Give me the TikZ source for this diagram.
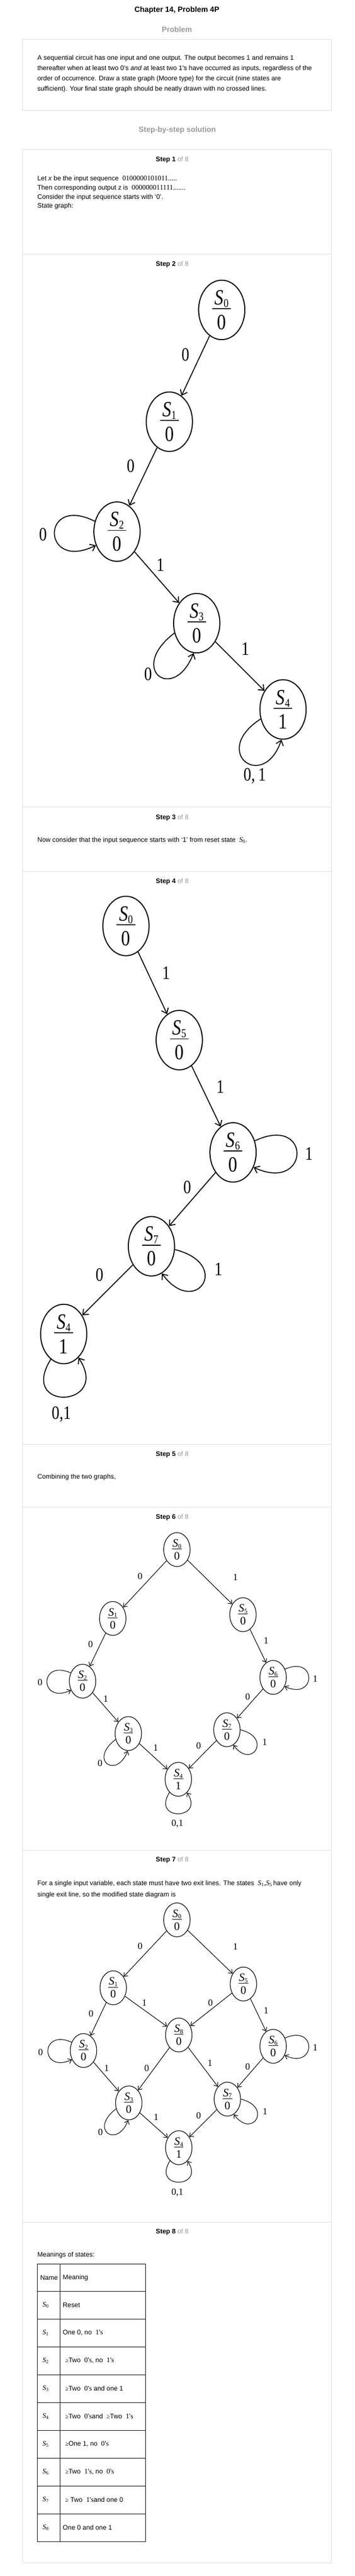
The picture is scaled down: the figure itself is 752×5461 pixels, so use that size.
\documentclass[tikz,border=0pt]{standalone}
\usepackage{fontspec}
\setmainfont{Liberation Sans}
\newfontfamily\tms{Liberation Serif}
\newfontfamily\tmsn[FakeStretch=0.82]{Liberation Serif}
\usetikzlibrary{shapes.geometric,arrows.meta}
\definecolor{rulegray}{HTML}{DDDDDD}
\definecolor{stepgray}{HTML}{9A9A9A}
% state label: S_i over a bar over the output
\newcommand{\stlbl}[2]{\textit{S}\raisebox{-0.12em}{\scalebox{0.55}{#1}}\\[-1.0em]\rule{0.86em}{0.045em}\\[-0.28em]#2}
\newcommand{\stephd}[1]{\textbf{Step #1} \textcolor{stepgray}{of 8}}
\newcommand{\qs}[1]{{\tms\fontsize{15}{16}\selectfont #1\textquotesingle s}}
\newcommand{\gq}{{\tms\fontsize{13}{16}\selectfont ≥}}
\tikzset{
  boxline/.style={draw=rulegray,line width=1pt},
  txt/.style={anchor=west,inner sep=0pt,font=\fontsize{14}{16}\selectfont},
  bigstate/.style={ellipse,draw,line width=2.2pt,minimum width=98pt,minimum height=126pt,inner sep=0pt,align=center,font=\tmsn\fontsize{46}{55.6}\selectfont},
  smallstate/.style={ellipse,draw,line width=1.3pt,minimum width=56pt,minimum height=72pt,inner sep=0pt,align=center,font=\tms\fontsize{24}{29}\selectfont},
  biglbl/.style={inner sep=0pt,font=\tmsn\fontsize{40}{42}\selectfont},
  smalllbl/.style={inner sep=0pt,font=\tms\fontsize{20}{22}\selectfont},
  bigedge/.style={draw=black,line width=2pt,-{Straight Barb[length=10pt,width=16pt]}},
  smalledge/.style={draw=black,line width=1.2pt,-{Straight Barb[length=7pt,width=11pt]}}
}
\begin{document}
\begin{tikzpicture}[x=1pt,y=1pt]
  \fill[white] (0,0) rectangle (752,-5461);
  \useasboundingbox (0,0) rectangle (752,-5461);

  % heading and problem
  \node (title) at (375,-22) {\fontsize{16}{18}\selectfont\bfseries Chapter 14, Problem 4P};
  \node (problem) at (375,-63) {\fontsize{16}{18}\selectfont\bfseries\color{stepgray}Problem};
  \draw[boxline] (48,-84) rectangle (703,-234);
  \node (ptext) [txt,align=left,font=\fontsize{14}{22}\selectfont] at (79,-156.5)
    {A sequential circuit has one input and one output. The output becomes 1 and remains 1\\
     thereafter when at least two 0’s \textit{and} at least two 1’s have occurred as inputs, regardless of the\\
     order of occurrence. Draw a state graph (Moore type) for the circuit (nine states are\\
     sufficient). Your final state graph should be neatly drawn with no crossed lines.};
  \node (solution) at (376,-276) {\fontsize{16}{18}\selectfont\bfseries\color{stepgray}Step-by-step solution};

  % step boxes
  \draw[boxline] (48,-317) rectangle (703,-5433);
  \foreach \y in {539,1711,1847,3062,3195,3922,4711}
    \draw[boxline] (48,-\y) -- (703,-\y);
  \foreach \n/\y in {1/339,2/561,3/1733,4/1869,5/3083,6/3217,7/3943,8/4732}
    \node (step\n) at (365,-\y) {\fontsize{14}{16}\selectfont\stephd{\n}};

  % step 1
  \node (let) [txt] at (79,-379) {Let \textit{x} be the input sequence \ {\tms\fontsize{15}{16}\selectfont 0100000101011.....}};
  \node (then) [txt] at (79,-399) {Then corresponding output z is \ {\tms\fontsize{15}{16}\selectfont 000000011111.......}};
  \node (cons) [txt] at (79,-418) {Consider the input sequence starts with ‘0’.};
  \node (sg) [txt] at (79,-437) {State graph:};

  % step 2
  \begin{scope}[every node/.style={bigstate}]
    \node (aS0) at (470,-657) {\stlbl{0}{0}};
    \node (aS1) at (359,-894) {\stlbl{1}{0}};
    \node (aS2) at (248,-1127) {\stlbl{2}{0}};
    \node (aS3) at (417,-1321) {\stlbl{3}{0}};
    \node (aS4) at (600,-1504) {\stlbl{4}{1}};
  \end{scope}
  \begin{scope}[every node/.style={biglbl}]
    \node (al1) at (393,-752) {0};
    \node (al2) at (277,-988) {0};
    \node (al3) at (91,-1133) {0};
    \node (al4) at (340,-1198) {1};
    \node (al5) at (314,-1429) {0};
    \node (al6) at (520,-1375) {1};
    \node (al7) at (540,-1645) {0,\,1};
  \end{scope}
  \begin{scope}[every edge/.style={bigedge}]
    \path (aS0) edge (aS1);
    \path (aS1) edge (aS2);
    \path (aS2) edge (aS3);
    \path (aS3) edge (aS4);
    \draw[bigedge] (aS2.155) .. controls +(-115,58) and +(-116,-57) .. (aS2.213);
    \draw[bigedge] (aS3.204) .. controls +(-101,-77) and +(-42,-107) .. (aS3.264);
    \draw[bigedge] (aS4.203) .. controls +(-108,-70) and +(-38,-112) .. (aS4.267);
  \end{scope}

  % step 3
  \node (now) [txt] at (79,-1782) {Now consider that the input sequence starts with ‘1’ from reset state \ {\tms\fontsize{15}{16}\selectfont\textit{S}\textsubscript{0}}.};

  % step 4
  \begin{scope}[every node/.style={bigstate}]
    \node (bS0) at (267,-1963) {\stlbl{0}{0}};
    \node (bS5) at (380,-2205) {\stlbl{5}{0}};
    \node (bS6) at (494,-2443) {\stlbl{6}{0}};
    \node (bS7) at (321,-2642) {\stlbl{7}{0}};
    \node (bS4) at (135,-2828) {\stlbl{4}{1}};
  \end{scope}
  \begin{scope}[every node/.style={biglbl}]
    \node (bl1) at (352,-2063) {1};
    \node (bl2) at (467,-2304) {1};
    \node (bl3) at (655,-2446) {1};
    \node (bl4) at (397,-2517) {0};
    \node (bl5) at (463,-2691) {1};
    \node (bl6) at (211,-2703) {0};
    \node (bl7) at (130,-2998) {0,1};
  \end{scope}
  \begin{scope}[every edge/.style={bigedge}]
    \path (bS0) edge (bS5);
    \path (bS5) edge (bS6);
    \path (bS6) edge (bS7);
    \path (bS7) edge (bS4);
    \draw[bigedge] (bS6.28) .. controls +(121,57) and +(120,-55) .. (bS6.-36);
    \draw[bigedge] (bS7.-8) .. controls +(123,-31) and +(71,-96) .. (bS7.-69);
    \draw[bigedge] (bS4.243) .. controls +(-70,-112) and +(70,-106) .. (bS4.302);
  \end{scope}

  % step 5
  \node (comb) [txt] at (79,-3132) {Combining the two graphs,};

  % step 6
  \begin{scope}[every node/.style={smallstate}]
    \node (cS0) at (375,-3285) {\stlbl{0}{0}};
    \node (cS1) at (239,-3431) {\stlbl{1}{0}};
    \node (cS5) at (515,-3423) {\stlbl{5}{0}};
    \node (cS2) at (175,-3564) {\stlbl{2}{0}};
    \node (cS6) at (579,-3556) {\stlbl{6}{0}};
    \node (cS3) at (272,-3675) {\stlbl{3}{0}};
    \node (cS7) at (481,-3667) {\stlbl{7}{0}};
    \node (cS4) at (378,-3772) {\stlbl{4}{1}};
  \end{scope}
  \begin{scope}[every node/.style={smalllbl}]
    \node (cl1) at (297,-3342) {0};
    \node (cl2) at (499,-3344) {1};
    \node (cl3) at (192,-3486) {0};
    \node (cl4) at (564,-3478) {1};
    \node (cl5) at (85,-3567) {0};
    \node (cl6) at (668,-3559) {1};
    \node (cl7) at (224,-3601) {1};
    \node (cl8) at (525,-3597) {0};
    \node (cl9) at (212,-3738) {0};
    \node (cl10) at (561,-3693) {1};
    \node (cl11) at (330,-3705) {1};
    \node (cl12) at (421,-3701) {0};
    \node (cl13) at (376,-3866) {0,1};
  \end{scope}
  \begin{scope}[every edge/.style={smalledge}]
    \path (cS0) edge (cS1);
    \path (cS0) edge (cS5);
    \path (cS1) edge (cS2);
    \path (cS5) edge (cS6);
    \path (cS2) edge (cS3);
    \path (cS6) edge (cS7);
    \path (cS3) edge (cS4);
    \path (cS7) edge (cS4);
    \draw[smalledge] (cS2.145) .. controls +(-68,30) and +(-67,-31) .. (cS2.218);
    \draw[smalledge] (cS6.35) .. controls +(68,30) and +(67,-31) .. (cS6.-38);
    \draw[smalledge] (cS3.205) .. controls +(-58,-44) and +(-24,-61) .. (cS3.268);
    \draw[smalledge] (cS7.0) .. controls +(68,-17) and +(39,-53) .. (cS7.-67);
    \draw[smalledge] (cS4.236) .. controls +(-39,-62) and +(39,-58) .. (cS4.303);
  \end{scope}

  % step 7
  \node (single) [txt] at (79,-3993) {For a single input variable, each state must have two exit lines. The states \ {\tms\fontsize{15}{16}\selectfont\textit{S}\textsubscript{1},\textit{S}\textsubscript{5}}\,have only};
  \node (single2) [txt] at (79,-4017) {single exit line, so the modified state diagram is};
  \begin{scope}[every node/.style={smallstate}]
    \node (dS0) at (375,-4070) {\stlbl{0}{0}};
    \node (dS1) at (240,-4214) {\stlbl{1}{0}};
    \node (dS5) at (516,-4206) {\stlbl{5}{0}};
    \node (dS8) at (379,-4314) {\stlbl{8}{0}};
    \node (dS2) at (177,-4347) {\stlbl{2}{0}};
    \node (dS6) at (579,-4338) {\stlbl{6}{0}};
    \node (dS3) at (273,-4458) {\stlbl{3}{0}};
    \node (dS7) at (482,-4450) {\stlbl{7}{0}};
    \node (dS4) at (379,-4553) {\stlbl{4}{1}};
  \end{scope}
  \begin{scope}[every node/.style={smalllbl}]
    \node (dl1) at (297,-4126) {0};
    \node (dl2) at (499,-4127) {1};
    \node (dl3) at (193,-4269) {0};
    \node (dl4) at (306,-4246) {1};
    \node (dl5) at (446,-4246) {0};
    \node (dl6) at (564,-4262) {1};
    \node (dl7) at (86,-4351) {0};
    \node (dl8) at (668,-4341) {1};
    \node (dl9) at (226,-4384) {1};
    \node (dl10) at (311,-4385) {0};
    \node (dl11) at (445,-4374) {1};
    \node (dl12) at (525,-4381) {0};
    \node (dl13) at (213,-4520) {0};
    \node (dl14) at (562,-4476) {1};
    \node (dl15) at (331,-4488) {1};
    \node (dl16) at (421,-4485) {0};
    \node (dl17) at (376,-4648) {0,1};
  \end{scope}
  \begin{scope}[every edge/.style={smalledge}]
    \path (dS0) edge (dS1);
    \path (dS0) edge (dS5);
    \path (dS1) edge (dS2);
    \path (dS1) edge (dS8);
    \path (dS5) edge (dS8);
    \path (dS5) edge (dS6);
    \path (dS2) edge (dS3);
    \path (dS8) edge (dS3);
    \path (dS8) edge (dS7);
    \path (dS6) edge (dS7);
    \path (dS3) edge (dS4);
    \path (dS7) edge (dS4);
    \draw[smalledge] (dS2.145) .. controls +(-68,30) and +(-67,-31) .. (dS2.218);
    \draw[smalledge] (dS6.35) .. controls +(68,30) and +(67,-31) .. (dS6.-38);
    \draw[smalledge] (dS3.205) .. controls +(-58,-44) and +(-24,-61) .. (dS3.268);
    \draw[smalledge] (dS7.0) .. controls +(68,-17) and +(39,-53) .. (dS7.-67);
    \draw[smalledge] (dS4.236) .. controls +(-39,-62) and +(39,-58) .. (dS4.303);
  \end{scope}

  % step 8
  \node (mean) [txt] at (79,-4781) {Meanings of states:};
  \draw[line width=1pt] (79,-4800) rectangle (309,-5388);
  \draw[line width=1pt] (127,-4800) -- (127,-5388);
  \foreach \y in {4857,4916,...,5329}
    \draw[line width=1pt] (79,-\y) -- (309,-\y);
  \node (hname) [txt] at (85,-4829) {Name};
  \node (hmean) [txt] at (133,-4829) {Meaning};
  \foreach \i/\m [count=\r from 0] in {
      0/{Reset},
      1/{One 0, no \ \qs{1}},
      2/{\hspace{5pt}\gq Two \ \qs{0}, no \ \qs{1}},
      3/{\hspace{5pt}\gq Two \ \qs{0} and one 1},
      4/{\hspace{5pt}\gq Two \ \qs{0}and \ \gq Two \ \qs{1}},
      5/{\hspace{5pt}\gq One 1, no \ \qs{0}},
      6/{\hspace{5pt}\gq Two \ \qs{1}, no \ \qs{0}},
      7/{\hspace{5pt}\gq\ Two \ \qs{1}and one 0},
      8/{One 0 and one 1}} {
    \node (n\i) [txt] at (90,-4886.5-59*\r) {\tms\fontsize{15}{16}\selectfont\textit{S}\textsubscript{\i}};
    \node (m\i) [txt] at (133,-4886.5-59*\r) {\m};
  }
\end{tikzpicture}
\end{document}
